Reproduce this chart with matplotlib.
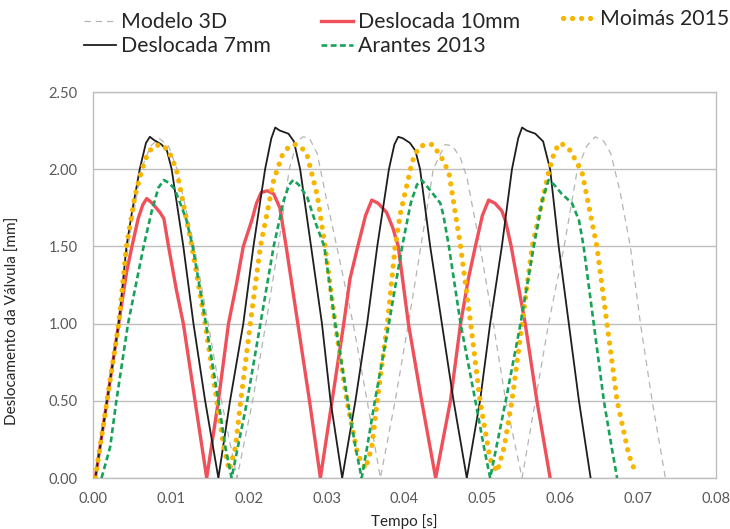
import matplotlib
matplotlib.use("Agg")
import matplotlib.pyplot as plt
from matplotlib.ticker import FormatStrFormatter

plt.rcParams['font.family'] = ['Lato', 'DejaVu Sans']

# ---- valve displacement [mm] versus time [s] ----
modelo3d_t = [0.0003, 0.0019, 0.0034, 0.0045, 0.0062, 0.0074, 0.0085, 0.0097, 0.0108, 0.0130, 0.0148, 0.0165, 0.0185,
              0.0205, 0.0222, 0.0238, 0.0252, 0.0262, 0.0270, 0.0278, 0.0288, 0.0298, 0.0313, 0.0334, 0.0352, 0.0369,
              0.0388, 0.0405, 0.0421, 0.0437, 0.0452, 0.0462, 0.0472, 0.0480, 0.0497, 0.0514, 0.0530, 0.0551,
              0.0568, 0.0585, 0.0605, 0.0622, 0.0634, 0.0645, 0.0656, 0.0665, 0.0677, 0.0690, 0.0703, 0.0718, 0.0735]
modelo3d_v = [0.0, 0.5, 1.0, 1.5, 2.0, 2.15, 2.2, 2.15, 2.0, 1.5, 1.0, 0.5, 0.0,
              0.5, 1.0, 1.5, 2.0, 2.18, 2.21, 2.2, 2.1, 1.85, 1.5, 1.0, 0.5, 0.0,
              0.5, 1.0, 1.5, 2.0, 2.16, 2.15, 2.07, 1.95, 1.5, 1.0, 0.5, 0.0,
              0.5, 1.0, 1.5, 2.0, 2.15, 2.21, 2.18, 2.1, 1.85, 1.5, 1.0, 0.5, 0.0]

desl10_t = [0.0003, 0.0018, 0.0033, 0.0043, 0.0050, 0.0058, 0.0064, 0.0069, 0.0076, 0.0086, 0.0091, 0.0097, 0.0107, 0.0116, 0.0131, 0.0146,
            0.0161, 0.0174, 0.0184, 0.0193, 0.0204, 0.0210, 0.0216, 0.0224, 0.0232, 0.0240, 0.0248, 0.0263, 0.0278, 0.0292,
            0.0307, 0.0322, 0.0330, 0.0340, 0.0350, 0.0358, 0.0366, 0.0377, 0.0385, 0.0392, 0.0405, 0.0422, 0.0440,
            0.0459, 0.0472, 0.0482, 0.0491, 0.0500, 0.0508, 0.0516, 0.0525, 0.0530, 0.0537, 0.0555, 0.0570, 0.0587]
desl10_v = [0.0, 0.5, 1.0, 1.33, 1.5, 1.68, 1.77, 1.81, 1.78, 1.72, 1.68, 1.5, 1.22, 1.0, 0.5, 0.0,
            0.5, 1.0, 1.25, 1.5, 1.67, 1.78, 1.85, 1.86, 1.84, 1.75, 1.5, 1.0, 0.5, 0.0,
            0.5, 1.0, 1.29, 1.5, 1.7, 1.80, 1.78, 1.72, 1.62, 1.5, 1.0, 0.5, 0.0,
            0.5, 1.0, 1.29, 1.5, 1.70, 1.80, 1.78, 1.73, 1.66, 1.5, 1.0, 0.5, 0.0]

moimas_t = [0.0003, 0.0018, 0.0033, 0.0043, 0.0054, 0.0063, 0.0070, 0.0078, 0.0088, 0.0097, 0.0107, 0.0127, 0.0144, 0.0159, 0.0168, 0.0175,
            0.0183, 0.0189, 0.0202, 0.0215, 0.0232, 0.0243, 0.0252, 0.0260, 0.0268, 0.0275, 0.0288, 0.0298, 0.0311, 0.0326, 0.0340, 0.0350,
            0.0358, 0.0365, 0.0378, 0.0388, 0.0395, 0.0410, 0.0418, 0.0426, 0.0436, 0.0447, 0.0457, 0.0472, 0.0485, 0.0497, 0.0510, 0.0519,
            0.0528, 0.0538, 0.0551, 0.0564, 0.0585, 0.0593, 0.0600, 0.0607, 0.0613, 0.0628, 0.0647, 0.0660, 0.0673, 0.0688, 0.0697]
moimas_v = [0.0, 0.5, 1.0, 1.5, 1.83, 2.0, 2.1, 2.15, 2.16, 2.12, 2.0, 1.5, 1.0, 0.5, 0.2, 0.05,
            0.2, 0.47, 1.0, 1.5, 1.93, 2.09, 2.15, 2.16, 2.14, 2.09, 1.83, 1.5, 1.0, 0.5, 0.15, 0.06,
            0.2, 0.5, 1.0, 1.5, 1.72, 2.05, 2.14, 2.16, 2.16, 2.08, 1.98, 1.5, 1.0, 0.5, 0.12, 0.04,
            0.2, 0.5, 1.0, 1.5, 1.98, 2.12, 2.17, 2.15, 2.12, 1.98, 1.5, 1.0, 0.5, 0.15, 0.03]

desl7_t = [0.0003, 0.0018, 0.0033, 0.0043, 0.0050, 0.0060, 0.0068, 0.0073, 0.0078, 0.0088, 0.0095, 0.0101, 0.0116, 0.0129, 0.0144, 0.0161,
           0.0176, 0.0193, 0.0206, 0.0221, 0.0229, 0.0234, 0.0240, 0.0251, 0.0258, 0.0266, 0.0280, 0.0294, 0.0305, 0.0320,
           0.0337, 0.0352, 0.0365, 0.0380, 0.0387, 0.0392, 0.0398, 0.0407, 0.0414, 0.0420, 0.0433, 0.0448, 0.0463, 0.0480,
           0.0497, 0.0510, 0.0525, 0.0538, 0.0546, 0.0551, 0.0557, 0.0568, 0.0578, 0.0587, 0.0598, 0.0611, 0.0624, 0.0639]
desl7_v = [0.0, 0.5, 1.0, 1.5, 1.72, 2.0, 2.17, 2.21, 2.19, 2.16, 2.12, 2.0, 1.5, 1.0, 0.5, 0.0,
           0.5, 1.0, 1.5, 2.0, 2.2, 2.27, 2.25, 2.23, 2.18, 2.0, 1.5, 1.0, 0.5, 0.0,
           0.5, 1.0, 1.5, 2.0, 2.16, 2.21, 2.2, 2.17, 2.12, 2.0, 1.5, 1.0, 0.5, 0.0,
           0.5, 1.0, 1.5, 2.0, 2.2, 2.27, 2.25, 2.23, 2.18, 2.0, 1.5, 1.0, 0.5, 0.0]

arantes_t = [0.0011, 0.0022, 0.0030, 0.0045, 0.0065, 0.0075, 0.0084, 0.0091, 0.0098, 0.0105, 0.0112, 0.0120, 0.0128, 0.0145, 0.0161, 0.0170, 0.0178,
             0.0186, 0.0198, 0.0215, 0.0232, 0.0245, 0.0252, 0.0257, 0.0264, 0.0275, 0.0286, 0.0297, 0.0311, 0.0327, 0.0337, 0.0345,
             0.0352, 0.0362, 0.0380, 0.0397, 0.0408, 0.0416, 0.0422, 0.0432, 0.0446, 0.0450, 0.0457, 0.0472, 0.0491, 0.0502, 0.0510,
             0.0518, 0.0530, 0.0549, 0.0566, 0.0577, 0.0585, 0.0592, 0.0602, 0.0615, 0.0624, 0.0630, 0.0643, 0.0656, 0.0666, 0.0673]
arantes_v = [0.0, 0.2, 0.5, 1.0, 1.5, 1.72, 1.88, 1.93, 1.91, 1.87, 1.78, 1.67, 1.5, 1.0, 0.5, 0.2, 0.0,
             0.2, 0.5, 1.0, 1.5, 1.8, 1.9, 1.93, 1.9, 1.82, 1.65, 1.5, 1.0, 0.5, 0.2, 0.0,
             0.2, 0.5, 1.0, 1.5, 1.78, 1.9, 1.93, 1.87, 1.78, 1.7, 1.5, 1.0, 0.5, 0.2, 0.0,
             0.2, 0.5, 1.0, 1.5, 1.8, 1.93, 1.9, 1.84, 1.78, 1.67, 1.5, 1.0, 0.5, 0.2, 0.0]

labels = ["Modelo 3D", "Deslocada 10mm", "Moimás 2015", "Deslocada 7mm", "Arantes 2013"]
x_ticks = [0.00, 0.01, 0.02, 0.03, 0.04, 0.05, 0.06, 0.07, 0.08]
y_ticks = [0.00, 0.50, 1.00, 1.50, 2.00, 2.50]

GRID = "#bfbfbf"
TXT = "#595959"

fig = plt.figure(figsize=(7.30, 5.29), dpi=100)
ax = fig.add_axes([93 / 730, 51 / 529, 623 / 730, 386 / 529])

l_m3d, = ax.plot(modelo3d_t, modelo3d_v, color="#b4b4b4", lw=0.9,
                 linestyle=(0, (5, 4)), zorder=2, label=labels[0])
l_d10, = ax.plot(desl10_t, desl10_v, color="#f0505a", lw=2.4,
                 solid_joinstyle="round", zorder=3, label=labels[1])
l_d7, = ax.plot(desl7_t, desl7_v, color="#1e1e1e", lw=1.3,
                solid_joinstyle="round", zorder=4, label=labels[3])
l_moi, = ax.plot(moimas_t, moimas_v, color="#f7b500", lw=3.8,
                 linestyle=(0, (0.01, 1.7)), dash_capstyle="round", zorder=5, label=labels[2])
l_ara, = ax.plot(arantes_t, arantes_v, color="#17a25a", lw=1.9,
                 linestyle=(0, (2.2, 1.3)), zorder=6, label=labels[4])

ax.set_xlim(0, 0.08)
ax.set_ylim(0, 2.5)
ax.set_xticks(x_ticks)
ax.set_yticks(y_ticks)
ax.xaxis.set_major_formatter(FormatStrFormatter("%.2f"))
ax.yaxis.set_major_formatter(FormatStrFormatter("%.2f"))
ax.tick_params(axis="both", length=0, labelsize=10.5, colors=TXT)
ax.tick_params(axis="x", pad=10)
ax.tick_params(axis="y", pad=11)
ax.grid(axis="y", color=GRID, lw=1.0)
ax.set_axisbelow(True)
for sp in ax.spines.values():
    sp.set_color(GRID)
    sp.set_linewidth(1.0)

ax.set_xlabel("Tempo [s]", fontsize=11, color="#262626", labelpad=6)
ax.set_ylabel("Deslocamento da Válvula [mm]", fontsize=11, color="#262626")
ax.yaxis.set_label_coords(20 / 730, 1 - 321 / 529, transform=fig.transFigure)

# legend laid out in three columns across the top
leg_cols = [
    ([l_m3d, l_d7], [labels[0], labels[3]], 84, 12),
    ([l_d10, l_ara], [labels[1], labels[4]], 321, 12),
    ([l_moi], [labels[2]], 563, 9),
]
for handles, texts, xpix, ypix in leg_cols:
    fig.legend(handles, texts, loc="upper left",
               bbox_to_anchor=(xpix / 730, 1 - ypix / 529),
               frameon=False, borderpad=0, borderaxespad=0,
               handlelength=1.5, handletextpad=0.25, labelspacing=0.2,
               fontsize=15.3, labelcolor="#262626")

fig.savefig("out.png", dpi=100)
